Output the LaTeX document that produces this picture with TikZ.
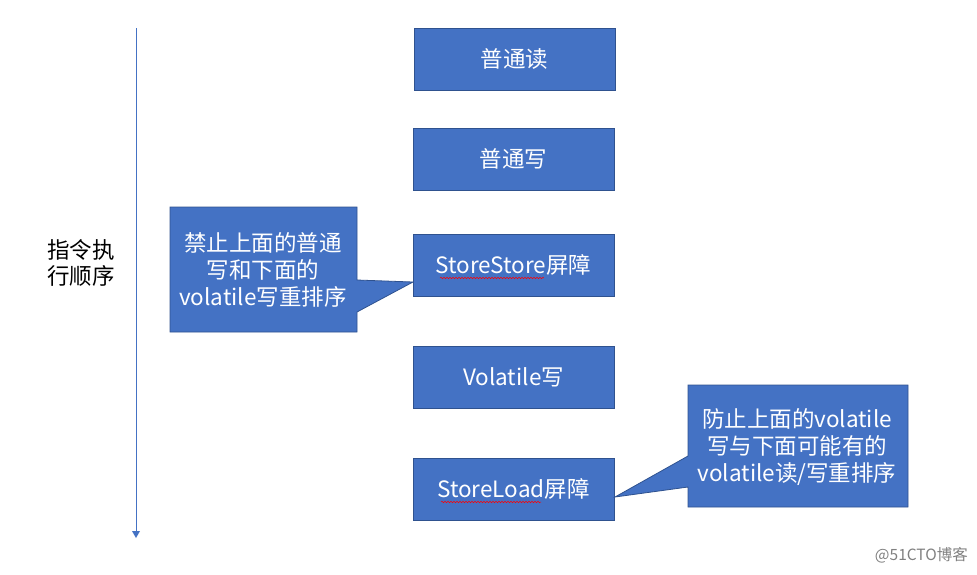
\documentclass[tikz,border=0pt]{standalone}
\usepackage{fontspec}
\setmainfont{Noto Sans CJK SC}
\usetikzlibrary{decorations.pathmorphing}
\definecolor{boxfill}{HTML}{4472C4}
\definecolor{boxline}{HTML}{2F528F}
\begin{document}
\begin{tikzpicture}[x=1pt,y=-1pt,
  opbox/.style={draw=boxline, fill=boxfill, line width=0.8pt, minimum width=201pt, minimum height=62pt, inner sep=0pt, text=white, font=\fontsize{22.5}{27}\selectfont},
  calltext/.style={text=white, align=center, inner sep=0pt, font=\fontsize{22.5}{27}\selectfont},
  callshape/.style={draw=boxline, fill=boxfill, line width=0.8pt},
  squiggle/.style={draw=red, line width=0.5pt, decorate, decoration={snake, amplitude=0.8pt, segment length=3pt}}]
\useasboundingbox (0,0) rectangle (977,574);
% timeline arrow
\coordinate (tstart) at (136,28);
\coordinate (tend) at (136,538);
\draw[boxfill, line width=0.8pt] (tstart) -- (136,531);
\fill[boxfill] (132,531) -- (140,531) -- (tend) -- cycle;
\node[font=\fontsize{22.5}{26}\selectfont, align=center, inner sep=0pt] (lbl) at (81,263) {指令执\\行顺序};
% boxes
\node[opbox] (r1) at (514.5,59) {普通读};
\node[opbox] (w1) at (513.5,159) {普通写};
% callout 1
\draw[callshape] (170,207) -- (357,207) -- (357,280) -- (413,282) -- (357,312) -- (357,332) -- (170,332) -- cycle;
\node[opbox] (ss) at (513.5,265) {StoreStore屏障};
\node[opbox] (vw) at (513.5,377) {Volatile写};
\node[opbox] (sl) at (513.5,489) {StoreLoad屏障};
% callout 2
\draw[callshape] (688,385) -- (908,385) -- (908,507) -- (688,507) -- (688,487) -- (615,497) -- (688,456) -- cycle;
\node[calltext] (c1) at (263,270) {禁止上面的普通\\写和下面的\\volatile写重排序};
\node[calltext] (c2) at (797,447) {防止上面的volatile\\写与下面可能有的\\volatile读/写重排序};
% spell-check squiggles
\draw[squiggle] (440,278) -- (544,278);
\draw[squiggle] (441,502) -- (541,502);
% watermark
\node[text=gray, font=\fontsize{15.5}{17}\selectfont, anchor=east, inner sep=0pt] (wm) at (968,555) {@51CTO博客};
\end{tikzpicture}
\end{document}
